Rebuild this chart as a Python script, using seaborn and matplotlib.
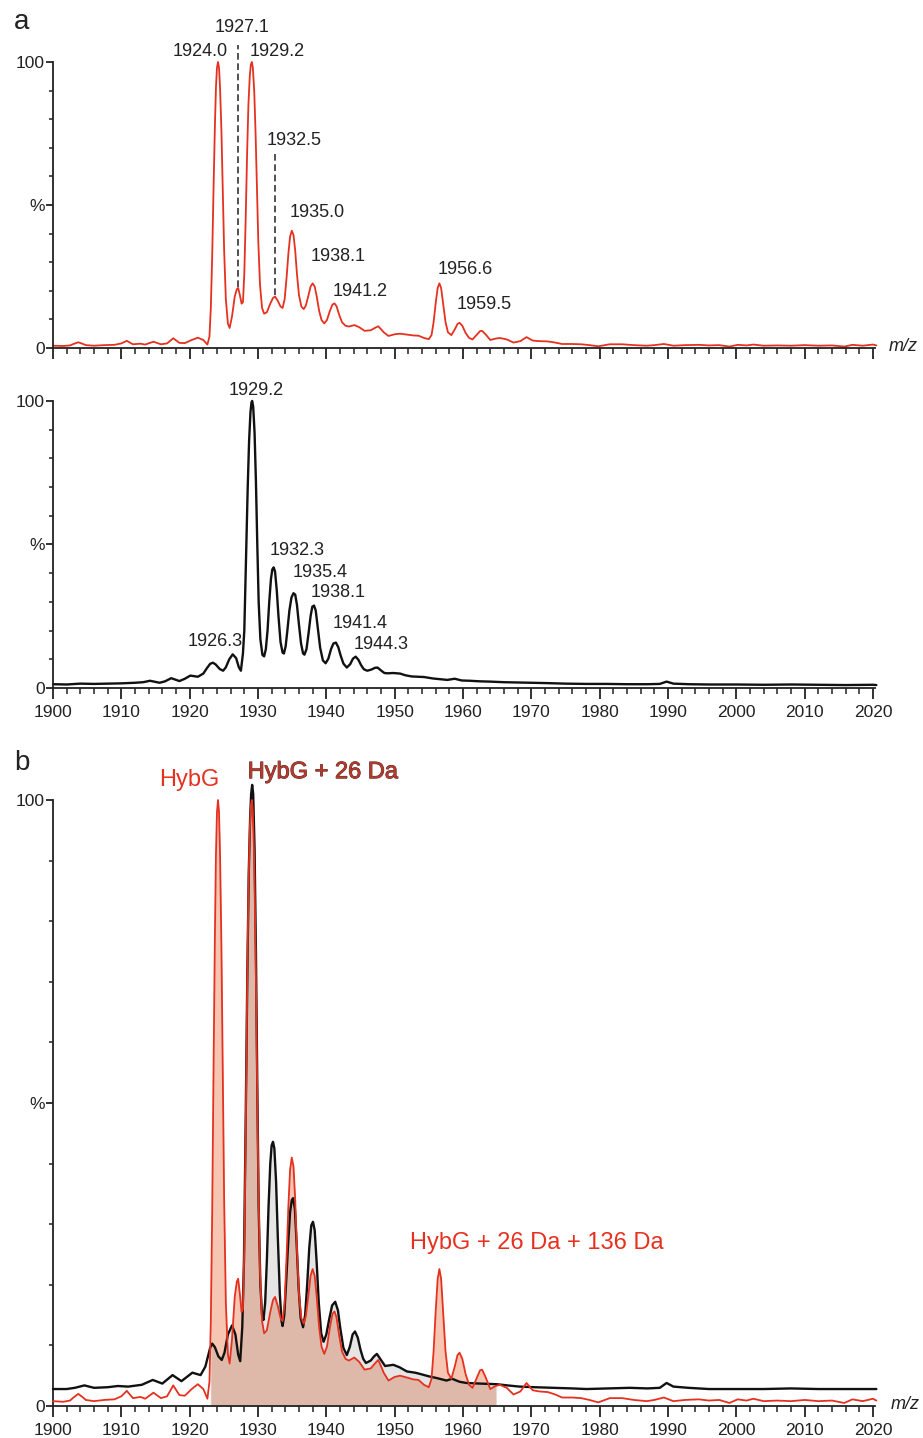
import numpy as np
import pandas as pd
import matplotlib
matplotlib.use("Agg")
import matplotlib.pyplot as plt
import matplotlib.patheffects as pe
import seaborn as sns
from matplotlib.ticker import MultipleLocator

# red spectrum (HybG), same trace in panel a (top) and panel b
red_mz = [1900.0, 1901.5, 1902.5, 1903.0, 1903.7, 1904.3, 1904.8, 1906.0, 1907.5, 1909.0,
          1910.0, 1910.8, 1911.7, 1912.8, 1913.5, 1914.7, 1915.8, 1916.7, 1917.6, 1918.5,
          1919.3, 1920.3, 1921.2, 1922.0, 1922.6, 1922.9, 1923.1, 1923.3, 1923.5, 1923.7,
          1923.85, 1924.0, 1924.15, 1924.3, 1924.45, 1924.65, 1924.85, 1925.05, 1925.3, 1925.6,
          1925.85, 1926.2, 1926.6, 1926.9, 1927.1, 1927.35, 1927.6, 1927.8, 1928.0, 1928.2,
          1928.4, 1928.6, 1928.8, 1928.95, 1929.1, 1929.25, 1929.45, 1929.65, 1929.85, 1930.05,
          1930.3, 1930.6, 1930.9, 1931.3, 1931.8, 1932.2, 1932.5, 1932.9, 1933.3, 1933.6,
          1933.9, 1934.2, 1934.45, 1934.7, 1934.95, 1935.2, 1935.45, 1935.7, 1936.0, 1936.35,
          1936.7, 1937.0, 1937.35, 1937.7, 1938.0, 1938.3, 1938.6, 1938.95, 1939.3, 1939.7,
          1940.1, 1940.5, 1940.9, 1941.2, 1941.5, 1941.9, 1942.3, 1942.8, 1943.3, 1944.1,
          1944.8, 1945.6, 1946.5, 1947.1, 1947.6, 1948.0, 1948.4, 1949.1, 1950.0, 1950.8,
          1951.8, 1952.7, 1953.5, 1954.3, 1955.0, 1955.4, 1955.7, 1956.0, 1956.3, 1956.55,
          1956.8, 1957.1, 1957.45, 1957.8, 1958.3, 1958.8, 1959.2, 1959.5, 1959.9, 1960.4,
          1960.9, 1961.4, 1962.0, 1962.5, 1962.8, 1963.3, 1964.0, 1964.6, 1964.8, 1965.4,
          1966.4, 1967.4, 1968.4, 1969.3, 1970.2, 1971.2, 1972.4, 1973.5, 1974.5, 1976.0,
          1977.3, 1978.5, 1979.8, 1981.5, 1983.3, 1985.0, 1986.9, 1988.0, 1989.4, 1990.8,
          1992.5, 1994.5, 1996.0, 1997.5, 1999.0, 2000.2, 2001.5, 2002.5, 2004.0, 2006.0,
          2008.0, 2010.0, 2012.0, 2014.0, 2015.8, 2017.0, 2018.5, 2020.0, 2020.5]
red_int = [0.8, 0.7, 0.9, 1.4, 2.0, 1.5, 1.0, 0.8, 1.0, 1.1,
           1.6, 2.5, 1.3, 1.5, 1.2, 2.2, 1.3, 1.6, 3.4, 1.8,
           1.7, 2.8, 3.6, 2.8, 1.2, 4, 14, 32, 56, 78,
           91, 98, 100, 98, 91, 76, 55, 34, 17, 8.5,
           7, 11, 18, 20.5, 21, 18.5, 15.5, 16, 26, 45,
           67, 85, 95, 99, 100, 98, 90, 75, 56, 37,
           22, 14, 12, 12.5, 15.5, 17.5, 18, 16.5, 14.5, 14,
           17, 25, 33, 39, 41, 39.5, 34, 26, 18.5, 14.5,
           13.6, 14.8, 18, 21.5, 22.6, 21.5, 18, 13, 9.8, 8.6,
           9.8, 12.8, 15.2, 15.6, 14.6, 11.5, 9, 7.8, 7.5, 8.0,
           7.3, 6, 6.2, 7.0, 7.6, 6.6, 5.5, 4.2, 4.8, 5.0,
           4.7, 4.4, 4.3, 3.5, 3.1, 4.5, 9, 15.5, 21, 22.6,
           21, 15.5, 9, 5.5, 4.5, 6.5, 8.4, 8.8, 7.8, 5.2,
           3.5, 3.0, 4.6, 5.9, 6.0, 4.8, 2.8, 3.2, 3.3, 3.5,
           3.0, 1.9, 2.4, 3.8, 2.6, 2.4, 2.3, 1.9, 1.4, 1.4,
           1.3, 1.0, 0.6, 1.3, 1.3, 1.0, 0.8, 1.0, 1.4, 0.8,
           1.0, 1.1, 0.9, 1.0, 0.5, 1.1, 0.9, 1.2, 0.8, 0.9,
           0.8, 1.0, 0.8, 0.9, 0.5, 1.1, 0.8, 1.2, 0.9]

# black spectrum (HybG + 26 Da), panel a bottom
blk_mz = [1900.0, 1902.0, 1904.0, 1906.0, 1908.0, 1910.0, 1912.0, 1913.2, 1914.2, 1915.6,
          1916.4, 1917.3, 1918.5, 1919.3, 1920.1, 1921.2, 1922.0, 1922.5, 1923.0, 1923.4,
          1923.8, 1924.4, 1924.9, 1925.3, 1925.8, 1926.3, 1926.8, 1927.2, 1927.5, 1927.8,
          1928.0, 1928.25, 1928.5, 1928.7, 1928.9, 1929.05, 1929.15, 1929.3, 1929.5, 1929.7,
          1929.9, 1930.1, 1930.35, 1930.65, 1930.9, 1931.15, 1931.4, 1931.65, 1931.9, 1932.1,
          1932.3, 1932.5, 1932.75, 1933.0, 1933.3, 1933.6, 1933.8, 1934.05, 1934.3, 1934.6,
          1934.9, 1935.2, 1935.45, 1935.7, 1936.0, 1936.3, 1936.6, 1936.8, 1937.1, 1937.4,
          1937.7, 1937.95, 1938.2, 1938.45, 1938.75, 1939.1, 1939.5, 1939.9, 1940.3, 1940.7,
          1941.05, 1941.4, 1941.75, 1942.1, 1942.5, 1943.0, 1943.5, 1943.9, 1944.3, 1944.7,
          1945.1, 1945.5, 1946.0, 1946.6, 1947.1, 1947.5, 1948.0, 1948.5, 1949.0, 1949.8,
          1950.8, 1951.6, 1952.5, 1953.4, 1954.3, 1955.6, 1956.8, 1957.7, 1958.8, 1959.8,
          1961.0, 1962.5, 1964.0, 1966.0, 1968.0, 1970.0, 1972.0, 1975.0, 1978.0, 1981.0,
          1984.0, 1987.0, 1988.8, 1989.8, 1990.8, 1993.0, 1996.0, 2000.0, 2004.0, 2008.0,
          2012.0, 2016.0, 2020.0, 2020.5]
blk_int = [1.3, 1.2, 1.5, 1.4, 1.5, 1.6, 1.8, 2.0, 2.5, 1.8,
           2.3, 3.4, 2.4, 3.2, 4.3, 3.9, 5.0, 6.8, 8.4, 8.8,
           8.2, 6.6, 6.0, 7.2, 10, 11.7, 10.4, 7.2, 6.0, 12,
           20, 45, 70, 86, 96, 99.5, 100, 98, 89, 72,
           50, 30, 17, 11.5, 11, 13.5, 20, 30, 38, 41.3,
           42, 40.5, 34, 25, 16, 12.3, 12, 14.5, 20, 27,
           31.5, 33, 32.5, 29, 22, 15.5, 12, 11.6, 13.5, 19,
           25, 28.3, 28.7, 27, 21, 14, 9.6, 8.6, 10.2, 13.6,
           15.5, 15.8, 14.2, 11.3, 8.5, 7.1, 8.3, 10.2, 10.9, 9.8,
           7.9, 6.5, 6.0, 6.4, 7.0, 7.1, 6.1, 5.2, 5.1, 5.2,
           5.0, 4.4, 4.0, 3.9, 3.8, 3.3, 3.0, 2.8, 3.2, 2.6,
           2.5, 2.3, 2.2, 2.0, 1.9, 1.8, 1.7, 1.5, 1.4, 1.4,
           1.3, 1.3, 1.4, 2.2, 1.5, 1.3, 1.2, 1.2, 1.1, 1.2,
           1.1, 1.0, 1.1, 1.0]

# black spectrum as overlaid in panel b (higher baseline)
blkb_mz = [1900.0, 1902.0, 1903.2, 1904.6, 1906.0, 1908.0, 1909.5, 1911.0, 1913.0, 1914.6,
           1916.0, 1917.5, 1918.8, 1920.4, 1921.6, 1922.3, 1922.7, 1923.0, 1923.3, 1923.7,
           1924.2, 1924.7, 1925.1, 1925.6, 1926.2, 1926.7, 1927.1, 1927.4, 1927.7, 1927.95,
           1928.2, 1928.45, 1928.65, 1928.85, 1929.0, 1929.15, 1929.3, 1929.5, 1929.7, 1929.9,
           1930.1, 1930.35, 1930.6, 1930.8, 1931.05, 1931.3, 1931.55, 1931.8, 1932.0, 1932.2,
           1932.4, 1932.65, 1932.9, 1933.2, 1933.45, 1933.6, 1933.85, 1934.1, 1934.4, 1934.7,
           1934.95, 1935.15, 1935.4, 1935.65, 1935.95, 1936.25, 1936.6, 1936.9, 1937.2, 1937.5,
           1937.8, 1938.05, 1938.3, 1938.6, 1938.9, 1939.25, 1939.6, 1940.0, 1940.4, 1940.85,
           1941.3, 1941.7, 1942.05, 1942.5, 1943.0, 1943.45, 1943.85, 1944.2, 1944.6, 1945.0,
           1945.4, 1945.8, 1946.5, 1947.0, 1947.4, 1948.0, 1948.6, 1949.8, 1950.7, 1951.8,
           1953.0, 1953.7, 1955.0, 1956.2, 1957.6, 1958.4, 1959.5, 1960.5, 1962.5, 1964.9,
           1966.5, 1968.3, 1970.5, 1973.2, 1976.0, 1978.1, 1981.0, 1984.4, 1987.0, 1988.8,
           1989.8, 1990.8, 1993.0, 1996.0, 2000.0, 2004.0, 2008.0, 2012.0, 2016.0, 2020.0,
           2020.5]
blkb_int = [2.8, 2.8, 3.0, 3.4, 3.0, 3.1, 3.3, 3.2, 3.5, 4.3,
            3.7, 5.1, 4.1, 5.5, 5.1, 6.5, 8.3, 9.6, 10.3, 9.7,
            8.2, 7.6, 8.8, 11.8, 13.3, 11.8, 8.5, 7.4, 13, 24,
            47, 72, 88, 97, 101, 102.5, 101, 92, 75, 53,
            33, 20, 15, 14.2, 17, 24, 33, 40, 43, 43.6,
            42.5, 37, 28, 18.5, 14, 13.2, 15, 20, 26.5, 32,
            34, 34.3, 32.5, 27, 19.5, 14.5, 13, 15, 20, 26,
            29.8, 30.4, 29, 23.5, 17, 12, 10.6, 11.8, 14.2, 16.6,
            17.2, 15.8, 12.8, 9.6, 8.4, 9.8, 11.8, 12.3, 11.3, 9.3,
            7.8, 7.1, 7.5, 8.2, 8.6, 7.6, 6.6, 6.8, 6.4, 5.7,
            5.5, 5.3, 4.9, 4.6, 4.2, 4.5, 4.0, 3.8, 3.7, 3.6,
            3.4, 3.2, 3.1, 3.0, 2.9, 2.8, 2.9, 3.0, 2.9, 3.0,
            3.8, 3.2, 3.0, 2.8, 2.8, 2.8, 2.9, 2.8, 2.8, 2.8,
            2.8]

# peak labels (value text, m/z of text, height of text)
top_labels = ["1924.0", "1927.1", "1929.2", "1932.5", "1935.0", "1938.1", "1941.2", "1956.6", "1959.5"]
top_lab_x = [1921.6, 1927.6, 1932.8, 1935.3, 1938.6, 1941.8, 1945.0, 1960.4, 1963.15]
top_lab_y = [103.6, 112.0, 103.6, 72.5, 47.4, 31.9, 19.9, 27.3, 15.3]
mid_labels = ["1926.3", "1929.2", "1932.3", "1935.4", "1938.1", "1941.4", "1944.3"]
mid_lab_x = [1923.8, 1929.75, 1935.8, 1939.15, 1941.8, 1944.9, 1948.0]
mid_lab_y = [16.1, 103.8, 47.8, 40.2, 33.3, 22.5, 15.0]
dash_x = [1927.1, 1932.5]
dash_lo = [21.5, 18.5]
dash_hi = [106.0, 68.5]
fill_range = (1923.0, 1964.9)

RED = "#e5311f"
INK = "#222222"

sns.set_style("ticks")
plt.rcParams["font.family"] = ["Liberation Sans", "DejaVu Sans"]
plt.rcParams["axes.edgecolor"] = INK
plt.rcParams["xtick.color"] = INK
plt.rcParams["ytick.color"] = INK

red = pd.DataFrame({"mz": red_mz, "i": red_int})
blk = pd.DataFrame({"mz": blk_mz, "i": blk_int})
blkb = pd.DataFrame({"mz": blkb_mz, "i": blkb_int})

fig = plt.figure(figsize=(9.23, 14.38), dpi=100)
left, width = 0.0574, 0.8906
ax1 = fig.add_axes([left, 0.7580, width, 0.1989])
ax2 = fig.add_axes([left, 0.5216, width, 0.1996])
ax3 = fig.add_axes([left, 0.02225, width, 0.4214])


def style(ax, xlabels=True):
    ax.set_xlim(1900, 2020.3)
    ax.set_ylim(0, 100)
    sns.despine(ax=ax)
    for s in ["left", "bottom"]:
        ax.spines[s].set_linewidth(1.3)
    ax.xaxis.set_major_locator(MultipleLocator(10))
    ax.xaxis.set_minor_locator(MultipleLocator(2))
    ax.set_yticks([0, 50, 100])
    ax.set_yticklabels(["0", "%", "100"])
    ax.yaxis.set_minor_locator(MultipleLocator(10))
    ax.tick_params(axis="x", which="major", length=8, width=1.3, labelsize=12.5, pad=4,
                   labelbottom=xlabels)
    ax.tick_params(axis="x", which="minor", length=4, width=1.1)
    ax.tick_params(axis="y", which="major", length=5, width=1.3, labelsize=12.5, pad=1)
    ax.tick_params(axis="y", which="minor", length=3, width=1.1)
    ax.set_xlabel("")
    ax.set_ylabel("")
    for t in ax.get_xticklabels() + ax.get_yticklabels():
        t.set_color(INK)


# panel a, top: red spectrum
sns.lineplot(data=red, x="mz", y="i", ax=ax1, color=RED, lw=1.3, sort=False,
             estimator=None, clip_on=False)
for lab, x, y in zip(top_labels, top_lab_x, top_lab_y):
    ax1.text(x, y, lab, ha="center", va="center", fontsize=13, color=INK, clip_on=False)
for x, lo, hi in zip(dash_x, dash_lo, dash_hi):
    ax1.plot([x, x], [lo, hi], color="#333333", lw=1.2, ls=(0, (4, 2.2)), clip_on=False)
style(ax1, xlabels=False)

# panel a, bottom: black spectrum
sns.lineplot(data=blk, x="mz", y="i", ax=ax2, color="#111111", lw=1.7, sort=False,
             estimator=None, clip_on=False)
for lab, x, y in zip(mid_labels, mid_lab_x, mid_lab_y):
    ax2.text(x, y, lab, ha="center", va="center", fontsize=13, color=INK, clip_on=False)
style(ax2)

# panel b: overlay with filled area
rm = (red["mz"] >= fill_range[0]) & (red["mz"] <= fill_range[1])
bm = (blkb["mz"] >= fill_range[0]) & (blkb["mz"] <= fill_range[1])
ax3.fill_between(red["mz"], 0, red["i"], where=rm, color="#f6c6b3", lw=0, zorder=1)
ax3.fill_between(blkb["mz"], 0, blkb["i"], where=bm, color="#808080", alpha=0.2,
                 lw=0, zorder=2)
sns.lineplot(data=blkb, x="mz", y="i", ax=ax3, color="#111111", lw=1.7, sort=False,
             estimator=None, clip_on=False, zorder=3)
sns.lineplot(data=red, x="mz", y="i", ax=ax3, color=RED, lw=1.3, sort=False,
             estimator=None, clip_on=False, zorder=4)
ax3.text(1920.0, 103.3, "HybG", ha="center", va="center", fontsize=17, color=RED,
         clip_on=False)
ax3.text(1939.5, 104.6, "HybG + 26 Da", ha="center", va="center", fontsize=17,
         color="#b53b2f", clip_on=False,
         path_effects=[pe.withStroke(linewidth=0.7, foreground="#5a2a24")])
ax3.text(1970.8, 26.9, "HybG + 26 Da + 136 Da", ha="center", va="center", fontsize=17,
         color=RED, clip_on=False)
style(ax3)

fig.text(0.0238, 0.9847, "a", fontsize=20, ha="center", va="center", color=INK)
fig.text(0.0238, 0.4694, "b", fontsize=20, ha="center", va="center", color=INK)
fig.text(0.9783, 0.7587, "m/z", fontsize=13, style="italic", ha="center", va="center",
         color=INK)
fig.text(0.9805, 0.0230, "m/z", fontsize=13, style="italic", ha="center", va="center",
         color=INK)

fig.savefig("out.png", dpi=100)
